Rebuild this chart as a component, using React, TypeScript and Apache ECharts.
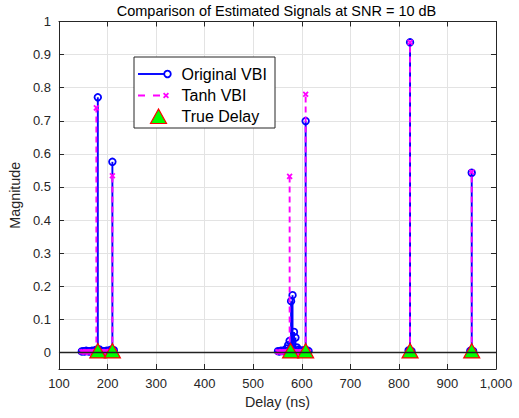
import React, { useEffect, useRef } from "react";
import * as echarts from "echarts";

const titleText = "Comparison of Estimated Signals at SNR = 10 dB";
const xName = "Delay (ns)";
const yName = "Magnitude";

const xTicks = [100, 200, 300, 400, 500, 600, 700, 800, 900, 1000];
const yTicks = [0, 0.1, 0.2, 0.3, 0.4, 0.5, 0.6, 0.7, 0.8, 0.9, 1];

// Delay grid (ns) on which the estimated signals are evaluated
const gridDelays = [
  147, 150, 153, 156, 159, 162, 165, 168, 171, 174, 177, 180, 183, 186, 189, 192, 195, 198, 201, 204, 207, 210, 213,
  551, 554, 557, 560, 563, 566, 569, 572, 575, 578, 581, 584, 587, 590, 593, 596, 599, 602, 605, 608, 611, 614,
  820, 823, 826,
  947, 950, 953,
];

const originalVBI = [
  0.003, 0.004, 0.003, 0.005, 0.004, 0.003, 0.004, 0.005, 0.004, 0.006, 0.008, 0.771, 0.009, 0.005, 0.004, 0.003, 0.004, 0.005, 0.004, 0.006, 0.008, 0.576, 0.007,
  0.004, 0.003, 0.005, 0.004, 0.006, 0.005, 0.012, 0.022, 0.035, 0.155, 0.173, 0.062, 0.045, 0.015, 0.008, 0.005, 0.006, 0.004, 0.007, 0.699, 0.006, 0.004,
  0.006, 0.937, 0.004,
  0.005, 0.543, 0.004,
];

const tanhVBI = [
  0.002, 0.002, 0.001, 0.002, 0.002, 0.001, 0.002, 0.002, 0.001, 0.003, 0.739, 0.004, 0.002, 0.001, 0.002, 0.001, 0.002, 0.002, 0.001, 0.003, 0.003, 0.534, 0.002,
  0.002, 0.001, 0.002, 0.002, 0.001, 0.002, 0.002, 0.003, 0.532, 0.004, 0.003, 0.002, 0.002, 0.001, 0.002, 0.001, 0.002, 0.002, 0.003, 0.780, 0.002, 0.001,
  0.001, 0.937, 0.001,
  0.001, 0.545, 0.001,
];

const trueDelays = [180, 210, 577, 608, 823, 950];

const legendLabels = ["Original VBI", "Tanh VBI", "True Delay"];

const FONT = "'Liberation Sans', Arial, Helvetica, sans-serif";
const TXT = "#262626";
const BLUE = "#0000ff";
const MAGENTA = "#ff00ff";
const GREEN = "#00ff00";
const RED = "#ff0000";

const STEM_W = 1.9;
const MARK_R = 3.3;
const MARK_W = 1.8;

function stemSeries(name: string, delays: number[], values: number[], color: string, dashed: boolean, marker: "circle" | "x") {
  return {
    type: "custom",
    name,
    data: delays.map((d, i) => [d, values[i]]),
    encode: { x: 0, y: 1 },
    silent: true,
    renderItem: (params: any, api: any) => {
      const x = api.value(0);
      const y = api.value(1);
      const p = api.coord([x, y]);
      const b = api.coord([x, 0]);
      const children: any[] = [
        {
          type: "line",
          shape: { x1: b[0], y1: b[1], x2: p[0], y2: p[1] },
          style: { stroke: color, lineWidth: STEM_W, lineDash: dashed ? [6, 4] : null, fill: null },
        },
      ];
      if (marker === "circle") {
        children.push({
          type: "circle",
          shape: { cx: p[0], cy: p[1], r: MARK_R },
          style: { fill: "none", stroke: color, lineWidth: MARK_W },
        });
      } else {
        const s = 2.4;
        children.push({
          type: "line",
          shape: { x1: p[0] - s, y1: p[1] - s, x2: p[0] + s, y2: p[1] + s },
          style: { stroke: color, lineWidth: MARK_W },
        });
        children.push({
          type: "line",
          shape: { x1: p[0] - s, y1: p[1] + s, x2: p[0] + s, y2: p[1] - s },
          style: { stroke: color, lineWidth: MARK_W },
        });
      }
      return { type: "group", children };
    },
  };
}

function trianglePoints(cx: number, cy: number) {
  return [
    [cx, cy - 9],
    [cx - 8, cy + 5.5],
    [cx + 8, cy + 5.5],
  ];
}

export default function App() {
  const ref = useRef<HTMLDivElement>(null);

  useEffect(() => {
    document.body.style.margin = "0";
    if (!ref.current) return;
    const chart = echarts.init(ref.current, null, { renderer: "svg" });

    const axisLineStyle = { color: TXT, width: 1 };
    const legendX = 134;
    const legendY = 57;
    const rowY = [74, 95.5, 116.5];
    const Z = 100;

    const option: any = {
      animation: false,
      textStyle: { fontFamily: FONT },
      grid: { left: 57, right: 23, top: 21.5, bottom: 49 },
      xAxis: [
        {
          type: "value",
          min: 100,
          max: 1000,
          interval: 100,
          position: "bottom",
          name: xName,
          nameLocation: "middle",
          nameGap: 26,
          nameTextStyle: { fontSize: 14.3, color: TXT, fontFamily: FONT },
          axisLine: { onZero: false, lineStyle: axisLineStyle },
          axisTick: { inside: true, length: 5, lineStyle: axisLineStyle },
          axisLabel: { fontSize: 13, color: TXT, margin: 8, fontFamily: FONT },
          splitLine: { show: true, lineStyle: { color: "#e3e3e3", width: 1 } },
        },
        {
          type: "value",
          min: 100,
          max: 1000,
          interval: 100,
          position: "top",
          axisLine: { onZero: false, lineStyle: axisLineStyle },
          axisTick: { inside: true, length: 5, lineStyle: axisLineStyle },
          axisLabel: { show: false },
          splitLine: { show: false },
        },
      ],
      yAxis: [
        {
          type: "value",
          min: -0.05,
          max: 1,
          position: "left",
          name: yName,
          nameLocation: "middle",
          nameGap: 30,
          nameTextStyle: { fontSize: 14.3, color: TXT, fontFamily: FONT },
          axisLine: { onZero: false, lineStyle: axisLineStyle },
          axisTick: { inside: true, length: 5, lineStyle: axisLineStyle, customValues: yTicks },
          axisLabel: {
            fontSize: 13,
            color: TXT,
            margin: 8,
            fontFamily: FONT,
            customValues: yTicks,
            formatter: (v: number) => String(Math.round(v * 10) / 10),
          },
          splitLine: { show: true, lineStyle: { color: "#e3e3e3", width: 1 } },
        },
        {
          type: "value",
          min: -0.05,
          max: 1,
          position: "right",
          axisLine: { onZero: false, lineStyle: axisLineStyle },
          axisTick: { inside: true, length: 5, lineStyle: axisLineStyle, customValues: yTicks },
          axisLabel: { show: false, customValues: yTicks },
          splitLine: { show: false },
        },
      ],
      series: [
        {
          type: "line",
          name: "baseline",
          data: [
            [xTicks[0], 0],
            [xTicks[xTicks.length - 1], 0],
          ],
          symbol: "none",
          silent: true,
          lineStyle: { color: "#222222", width: 1.5 },
        },
        stemSeries("Original VBI", gridDelays, originalVBI, BLUE, false, "circle"),
        stemSeries("Tanh VBI", gridDelays, tanhVBI, MAGENTA, true, "x"),
        {
          type: "custom",
          name: "True Delay",
          data: trueDelays.map((d) => [d, 0]),
          encode: { x: 0, y: 1 },
          silent: true,
          renderItem: (params: any, api: any) => {
            const p = api.coord([api.value(0), api.value(1)]);
            return {
              type: "polygon",
              shape: { points: trianglePoints(p[0], p[1]) },
              style: { fill: GREEN, stroke: RED, lineWidth: 1.2 },
            };
          },
        },
      ],
      graphic: [
        {
          type: "text",
          x: 276.5,
          y: 11,
          z: Z,
          style: {
            text: titleText,
            fontSize: 14.5,
            fontFamily: FONT,
            fill: "#000000",
            align: "center",
            verticalAlign: "middle",
          },
        },
        {
          type: "rect",
          z: Z,
          shape: { x: legendX, y: legendY, width: 141, height: 71 },
          style: { fill: "#ffffff", stroke: TXT, lineWidth: 1 },
        },
        {
          type: "line",
          z: Z + 1,
          shape: { x1: 138, y1: rowY[0], x2: 165, y2: rowY[0] },
          style: { stroke: BLUE, lineWidth: STEM_W },
        },
        {
          type: "circle",
          z: Z + 1,
          shape: { cx: 167.5, cy: rowY[0], r: MARK_R },
          style: { fill: "#ffffff", stroke: BLUE, lineWidth: MARK_W },
        },
        {
          type: "line",
          z: Z + 1,
          shape: { x1: 138, y1: rowY[1], x2: 163, y2: rowY[1] },
          style: { stroke: MAGENTA, lineWidth: STEM_W, lineDash: [7, 8] },
        },
        {
          type: "line",
          z: Z + 1,
          shape: { x1: 163.6, y1: rowY[1] - 2.4, x2: 168.4, y2: rowY[1] + 2.4 },
          style: { stroke: MAGENTA, lineWidth: MARK_W },
        },
        {
          type: "line",
          z: Z + 1,
          shape: { x1: 163.6, y1: rowY[1] + 2.4, x2: 168.4, y2: rowY[1] - 2.4 },
          style: { stroke: MAGENTA, lineWidth: MARK_W },
        },
        {
          type: "polygon",
          z: Z + 1,
          shape: { points: trianglePoints(158.5, rowY[2] + 1.5) },
          style: { fill: GREEN, stroke: RED, lineWidth: 1.2 },
        },
        ...legendLabels.map((t, i) => ({
          type: "text",
          z: Z + 1,
          x: 181.5,
          y: rowY[i],
          style: { text: t, fontSize: 16, fontFamily: FONT, fill: "#000000", verticalAlign: "middle", align: "left" },
        })),
      ],
    };

    chart.setOption(option);
    return () => chart.dispose();
  }, []);

  return <div ref={ref} style={{ width: 519, height: 418 }} />;
}
